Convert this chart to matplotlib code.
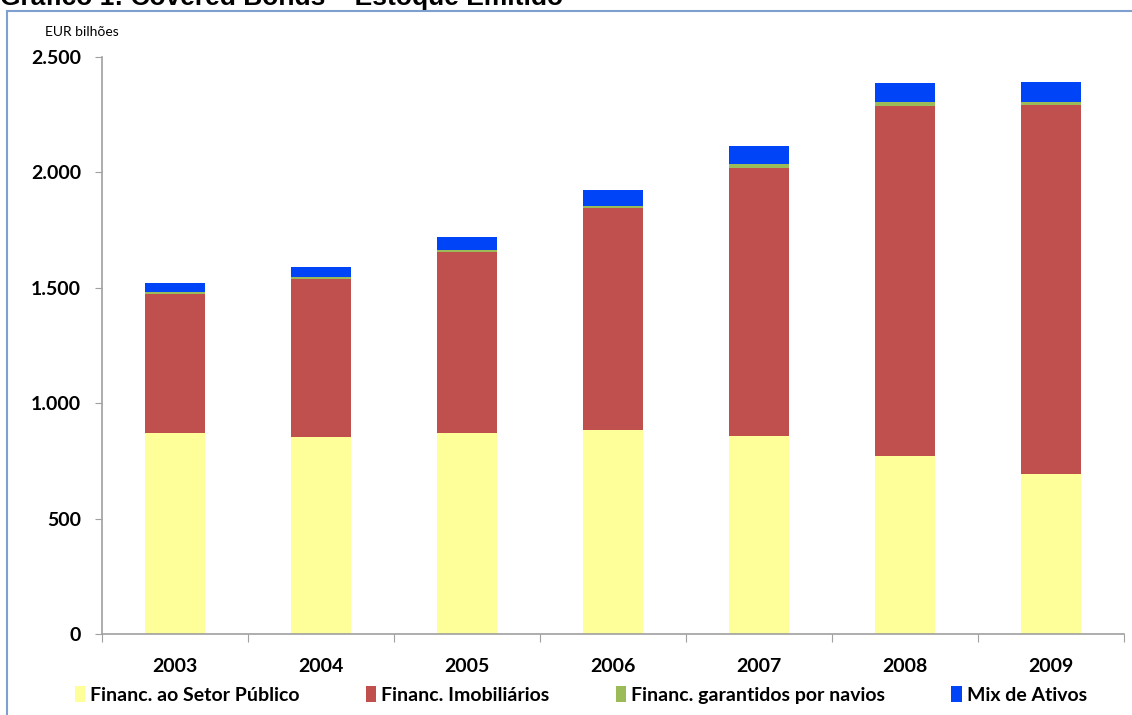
import matplotlib
matplotlib.use("Agg")
from matplotlib import pyplot as plt
from matplotlib.patches import Rectangle, Patch
from matplotlib.ticker import FuncFormatter

anos = ['2003', '2004', '2005', '2006', '2007', '2008', '2009']
setor_publico = [871, 854, 871, 884, 858, 771, 693]
imobiliarios = [602, 684, 784, 962, 1161, 1517, 1599]
navios = [9, 9, 9, 8, 17, 17, 13]
mix_ativos = [39, 43, 56, 70, 78, 82, 87]

series = ['Financ. ao Setor Público', 'Financ. Imobiliários',
          'Financ. garantidos por navios', 'Mix de Ativos']
cores = ['#FFFF99', '#C0504D', '#9BBB59', '#0044F8']

plt.rcParams['font.family'] = ['Lato', 'DejaVu Sans']

W, H = 1132, 715
fig = plt.figure(figsize=(W / 100, H / 100), dpi=100)

# moldura azul do gráfico
fig.patches.append(Rectangle((7 / W, -0.05), 1.1, 1 - 11 / H + 0.05,
                             transform=fig.transFigure, fill=False,
                             edgecolor='#7F9FCF', linewidth=1.5))

fig.text(0.0, 1 - 5 / H, 'Gráfico 1: Covered Bonds – Estoque Emitido',
         family='Liberation Sans', fontweight='bold', fontsize=19,
         va='baseline', ha='left')

ax = fig.add_axes([102 / W, 81 / H, 1022 / W, 577 / H])

x = range(len(anos))
base = [0] * len(anos)
for nome, vals, cor in zip(series, [setor_publico, imobiliarios, navios, mix_ativos], cores):
    ax.bar(x, vals, width=0.405, bottom=base, color=cor, label=nome)
    base = [b + v for b, v in zip(base, vals)]

ax.set_xlim(-0.5, 6.5)
ax.set_ylim(0, 2500)
ax.set_yticks([0, 500, 1000, 1500, 2000, 2500])
ax.yaxis.set_major_formatter(FuncFormatter(lambda v, p: f'{int(v):,}'.replace(',', '.')))
ax.set_xticks([i + 0.5 for i in range(-1, 7)], minor=False)
ax.set_xticklabels([])
ax.set_xticks(list(x), minor=True)
ax.set_xticklabels(anos, minor=True)
ax.tick_params(axis='x', which='major', length=6, color='#A0A0A0')
ax.tick_params(axis='x', which='minor', length=0, pad=17, labelsize=14)
ax.tick_params(axis='y', length=5, color='#A0A0A0', labelsize=14, pad=10)
for lbl in ax.get_xticklabels(minor=True) + ax.get_yticklabels():
    lbl.set_fontweight('bold')

for s in ['top', 'right']:
    ax.spines[s].set_visible(False)
for s in ['left', 'bottom']:
    ax.spines[s].set_color('#A0A0A0')
    ax.spines[s].set_linewidth(1.2)

fig.text(45 / W, 1 - 32 / H, 'EUR bilhões', fontsize=10, va='center', ha='left')

handles = [Patch(facecolor=c, edgecolor='none') for c in cores]
fig.legend(handles, series, loc='center', bbox_to_anchor=(0.513, 1 - 695 / H),
           ncol=4, frameon=False, handlelength=0.55, handleheight=0.9,
           handletextpad=0.25, columnspacing=3.4,
           prop={'weight': 'bold', 'size': 14})

fig.savefig('out.png', dpi=100)
